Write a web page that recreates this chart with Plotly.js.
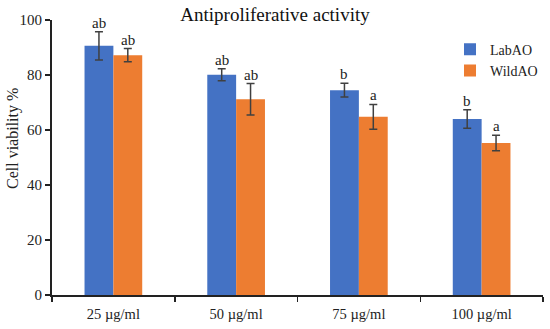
<!DOCTYPE html>
<html>
<head>
<meta charset="utf-8">
<script src="https://cdn.plot.ly/plotly-3.0.1.min.js"></script>
<style>html,body{margin:0;padding:0;background:#fff;}#chart{width:550px;height:329px;}</style>
</head>
<body>
<div id="chart"></div>
<script>
const categories = ["25 µg/ml", "50 µg/ml", "75 µg/ml", "100 µg/ml"];
const labValues = [90.6, 80.1, 74.5, 64.0];
const labErrors = [5.1, 2.2, 2.5, 3.4];
const labLetters = ["ab", "ab", "b", "b"];
const wildValues = [87.2, 71.2, 64.8, 55.3];
const wildErrors = [2.4, 5.7, 4.5, 2.8];
const wildLetters = ["ab", "ab", "a", "a"];

const FONT = "Liberation Serif, DejaVu Serif, serif";
const bargap = 0.53;
const plotW = 550 - 52 - 7;
const barPx = plotW / categories.length * (1 - bargap) / 2;

const errStyle = {type: "data", visible: true, color: "#404040", thickness: 1.5, width: 4};

const traces = [
  {type: "bar", name: "LabAO", x: categories, y: labValues,
   marker: {color: "#4472C4"},
   error_y: Object.assign({array: labErrors}, errStyle)},
  {type: "bar", name: "WildAO", x: categories, y: wildValues,
   marker: {color: "#ED7D31"},
   error_y: Object.assign({array: wildErrors}, errStyle)}
];

const annotations = [];
categories.forEach((c, i) => {
  annotations.push({x: c, y: labValues[i] + labErrors[i], text: labLetters[i], showarrow: false,
    xshift: -barPx / 2, yanchor: "bottom", yshift: -1, font: {family: FONT, size: 15, color: "#222"}});
  annotations.push({x: c, y: wildValues[i] + wildErrors[i], text: wildLetters[i], showarrow: false,
    xshift: barPx / 2, yanchor: "bottom", yshift: -1, font: {family: FONT, size: 15, color: "#222"}});
});
annotations.push({xref: "paper", yref: "paper", x: -39 / plotW, y: (295 - 139) / 275,
  xanchor: "center", yanchor: "middle", textangle: -90, showarrow: false,
  text: "Cell viability %", font: {family: FONT, size: 16, color: "#222"}});

const layout = {
  width: 550, height: 329,
  margin: {l: 52, r: 7, t: 20, b: 34},
  paper_bgcolor: "#fff", plot_bgcolor: "#fff",
  barmode: "group", bargap: bargap, bargroupgap: 0,
  font: {family: FONT, size: 14, color: "#222"},
  title: {text: "Antiproliferative activity", font: {family: FONT, size: 19, color: "#111"},
    x: 0.5, xref: "container", xanchor: "center", y: 1 - 14 / 329, yref: "container", yanchor: "middle"},
  xaxis: {type: "category", showgrid: false, showline: true, linecolor: "#222", linewidth: 1.5,
    ticks: "outside", tickson: "boundaries", ticklen: 5, tickwidth: 1.5, tickcolor: "#222",
    ticklabelstandoff: 5,
    automargin: false, tickfont: {family: FONT, size: 14.5, color: "#222"}},
  yaxis: {range: [0, 100], dtick: 20, showgrid: false, zeroline: false, showline: true,
    linecolor: "#222", linewidth: 2, ticks: "outside", ticklen: 5, tickwidth: 1.5, tickcolor: "#222",
    automargin: false, tickfont: {family: FONT, size: 15, color: "#222"}},
  legend: {x: 1, y: 0.95, xanchor: "right", yanchor: "top", bgcolor: "rgba(0,0,0,0)",
    font: {family: FONT, size: 14, color: "#222"}, itemwidth: 30, tracegroupgap: 0},
  annotations: annotations,
  showlegend: true
};

Plotly.newPlot("chart", traces, layout, {displayModeBar: false, staticPlot: true});
</script>
</body>
</html>
